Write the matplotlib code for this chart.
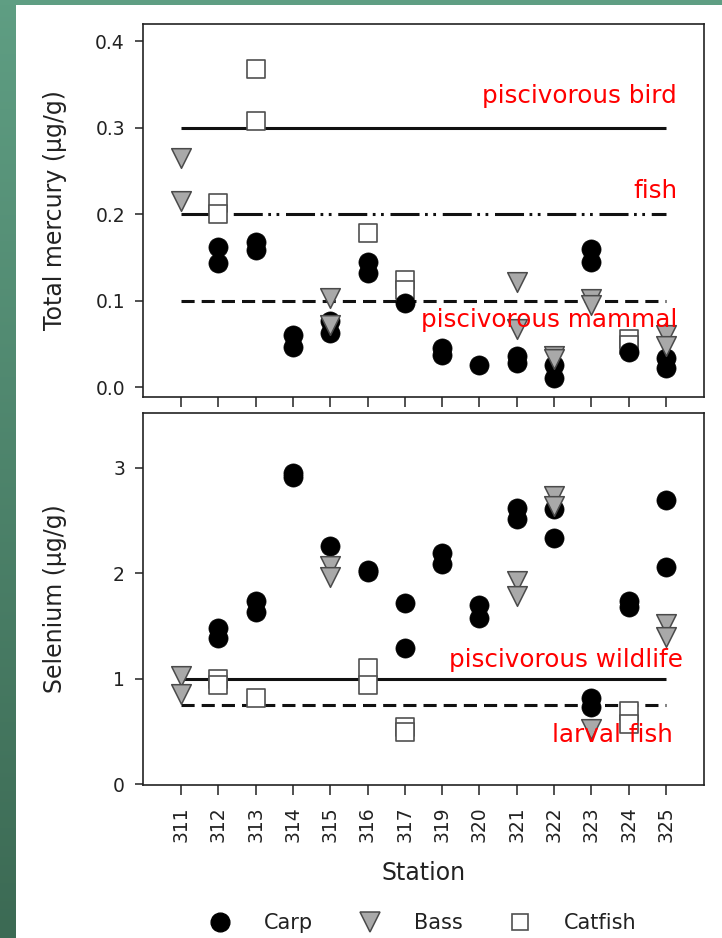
import numpy as np
import matplotlib
matplotlib.use("Agg")
import matplotlib.pyplot as plt
from matplotlib.lines import Line2D
from matplotlib.colors import LinearSegmentedColormap

plt.rcParams['font.family'] = ['DejaVu Sans']

# ---------------- data ----------------
stations = ["311", "312", "313", "314", "315", "316", "317", "319",
            "320", "321", "322", "323", "324", "325"]

# Total mercury (ug/g)
hg_carp_st = ["312", "312", "313", "313", "314", "314", "315", "315", "316", "316",
              "317", "319", "319", "320", "321", "321", "322", "322", "323", "323",
              "324", "325", "325"]
hg_carp = [0.162, 0.143, 0.168, 0.158, 0.060, 0.046, 0.076, 0.063, 0.145, 0.132,
           0.097, 0.045, 0.037, 0.025, 0.036, 0.028, 0.025, 0.010, 0.160, 0.145,
           0.040, 0.034, 0.022]
hg_bass_st = ["311", "311", "315", "315", "321", "321", "322", "322", "323", "323",
              "325", "325"]
hg_bass = [0.265, 0.215, 0.103, 0.072, 0.121, 0.067, 0.036, 0.033, 0.102, 0.095,
           0.060, 0.048]
hg_cat_st = ["312", "312", "313", "313", "316", "317", "317", "324", "324"]
hg_cat = [0.213, 0.200, 0.368, 0.308, 0.178, 0.124, 0.112, 0.056, 0.049]

# Selenium (ug/g)
se_carp_st = ["312", "312", "313", "313", "314", "314", "315", "316", "316", "317",
              "317", "319", "319", "320", "320", "321", "321", "322", "322", "323",
              "323", "324", "324", "325", "325"]
se_carp = [1.48, 1.39, 1.74, 1.63, 2.95, 2.91, 2.26, 2.03, 2.01, 1.72,
           1.29, 2.19, 2.09, 1.70, 1.58, 2.62, 2.52, 2.61, 2.34, 0.82,
           0.73, 1.74, 1.68, 2.70, 2.06]
se_bass_st = ["311", "311", "315", "315", "321", "321", "322", "322", "323",
              "325", "325"]
se_bass = [1.03, 0.86, 2.07, 1.97, 1.93, 1.79, 2.73, 2.64, 0.53, 1.52, 1.40]
se_cat_st = ["312", "312", "313", "316", "316", "317", "317", "324", "324"]
se_cat = [1.00, 0.94, 0.82, 1.10, 0.94, 0.54, 0.50, 0.70, 0.57]

# thresholds
hg_thresholds = [0.3, 0.2, 0.1]
hg_threshold_labels = ["piscivorous bird", "fish", "piscivorous mammal"]
se_thresholds = [1.0, 0.75]
se_threshold_labels = ["piscivorous wildlife", "larval fish"]

species = ["Carp", "Bass", "Catfish"]

# ---------------- figure ----------------
W, H = 722, 938
fig = plt.figure(figsize=(W / 100, H / 100), dpi=100, facecolor="white")

# green frame (left gradient strip + top strip)
bg = fig.add_axes([0, 0, 16 / W, 1])
cmap = LinearSegmentedColormap.from_list("g", ["#3c6a54", "#5f9e83"])
bg.imshow(np.linspace(0, 1, 256)[:, None], aspect="auto", cmap=cmap, origin="lower",
          extent=[0, 1, 0, 1])
bg.axis("off")
top = fig.add_axes([0, 1 - 5 / H, 1, 5 / H])
top.set_facecolor("#5f9e83")
top.set_xticks([]); top.set_yticks([])
for s in top.spines.values():
    s.set_visible(False)


def px_box(l, t, r, b):
    return [l / W, 1 - b / H, (r - l) / W, (b - t) / H]


ax1 = fig.add_axes(px_box(143, 24, 704, 397))
ax2 = fig.add_axes(px_box(143, 413, 704, 785))

xpos = {s: i for i, s in enumerate(stations)}

carp_kw = dict(marker="o", s=190, facecolor="black", edgecolor="black", linewidths=0.5, zorder=4)
bass_kw = dict(marker="v", s=200, facecolor="#a9a9a9", edgecolor="#4a4a4a", linewidths=1.1, zorder=5)
cat_kw = dict(marker="s", s=150, facecolor="white", edgecolor="#505050", linewidths=1.2, zorder=3)

lw_ref = 2.2
dash_styles_hg = ["-", (0, (9.5, 1.8, 0.9, 1.8, 0.9, 2.2)), (0, (4.3, 2.3))]
dash_styles_se = ["-", (0, (4.3, 2.3))]

for ax, (cst, cv, bst, bv, kst, kv), thr, styles in [
        (ax1, (hg_carp_st, hg_carp, hg_bass_st, hg_bass, hg_cat_st, hg_cat), hg_thresholds, dash_styles_hg),
        (ax2, (se_carp_st, se_carp, se_bass_st, se_bass, se_cat_st, se_cat), se_thresholds, dash_styles_se)]:
    for val, ls in zip(thr, styles):
        ax.plot([0, len(stations) - 1], [val, val], color="#111111", lw=lw_ref,
                linestyle=ls, zorder=2, solid_capstyle="butt", dash_capstyle="butt")
    ax.scatter([xpos[s] for s in kst], kv, **cat_kw)
    ax.scatter([xpos[s] for s in cst], cv, **carp_kw)
    ax.scatter([xpos[s] for s in bst], bv, **bass_kw)
    ax.set_xlim(-1.02, len(stations) - 1 + 1.02)
    ax.set_xticks(range(len(stations)))
    for sp in ax.spines.values():
        sp.set_linewidth(1.2)
        sp.set_color("#222222")
    ax.tick_params(axis="both", direction="out", color="#222222", width=1.1,
                   labelsize=13.5, labelcolor="#222222")
    ax.tick_params(axis="x", length=7.5, pad=8)
    ax.tick_params(axis="y", length=6, pad=7)

ax1.set_ylim(-0.0115, 0.42)
ax1.set_yticks([0.0, 0.1, 0.2, 0.3, 0.4])
ax1.set_yticklabels(["0.0", "0.1", "0.2", "0.3", "0.4"])
ax1.set_xticklabels([])

ax2.set_ylim(-0.005, 3.52)
ax2.set_yticks([0, 1, 2, 3])
ax2.set_yticklabels(["0", "1", "2", "3"])
ax2.set_xticklabels(stations, rotation=90)

ax1.set_ylabel("Total mercury (µg/g)", fontsize=17, color="#222222")
ax2.set_ylabel("Selenium (µg/g)", fontsize=17, color="#222222")
ax1.yaxis.set_label_coords((67 - 143) / 561, 0.5)
ax2.yaxis.set_label_coords((67 - 143) / 561, 0.5)
fig.text(423.5 / W, 1 - 873 / H, "Station", fontsize=17, color="#222222",
         ha="center", va="center")

# threshold labels (red)
red_pos_hg = [(677, 103), (677, 198), (677, 327)]
red_pos_se = [(683, 667), (673, 742)]
for lab, (x, y) in zip(hg_threshold_labels + se_threshold_labels, red_pos_hg + red_pos_se):
    fig.text(x / W, 1 - y / H, lab, color="red", fontsize=17.7, ha="right",
             va="baseline", zorder=10)

# legend
handles = [
    Line2D([], [], linestyle="none", marker="o", markersize=13.5, markerfacecolor="black",
           markeredgecolor="black"),
    Line2D([], [], linestyle="none", marker="v", markersize=14, markerfacecolor="#a9a9a9",
           markeredgecolor="#4a4a4a", markeredgewidth=1.1),
    Line2D([], [], linestyle="none", marker="s", markersize=12, markerfacecolor="white",
           markeredgecolor="#505050", markeredgewidth=1.2),
]
fig.legend(handles, species, loc="center", bbox_to_anchor=(423 / W, 1 - 923 / H),
           ncol=3, frameon=False, fontsize=15, handlelength=1.0, handletextpad=1.6,
           columnspacing=2.25, labelcolor="#222222")

fig.savefig("out.png", dpi=100, facecolor="white")
